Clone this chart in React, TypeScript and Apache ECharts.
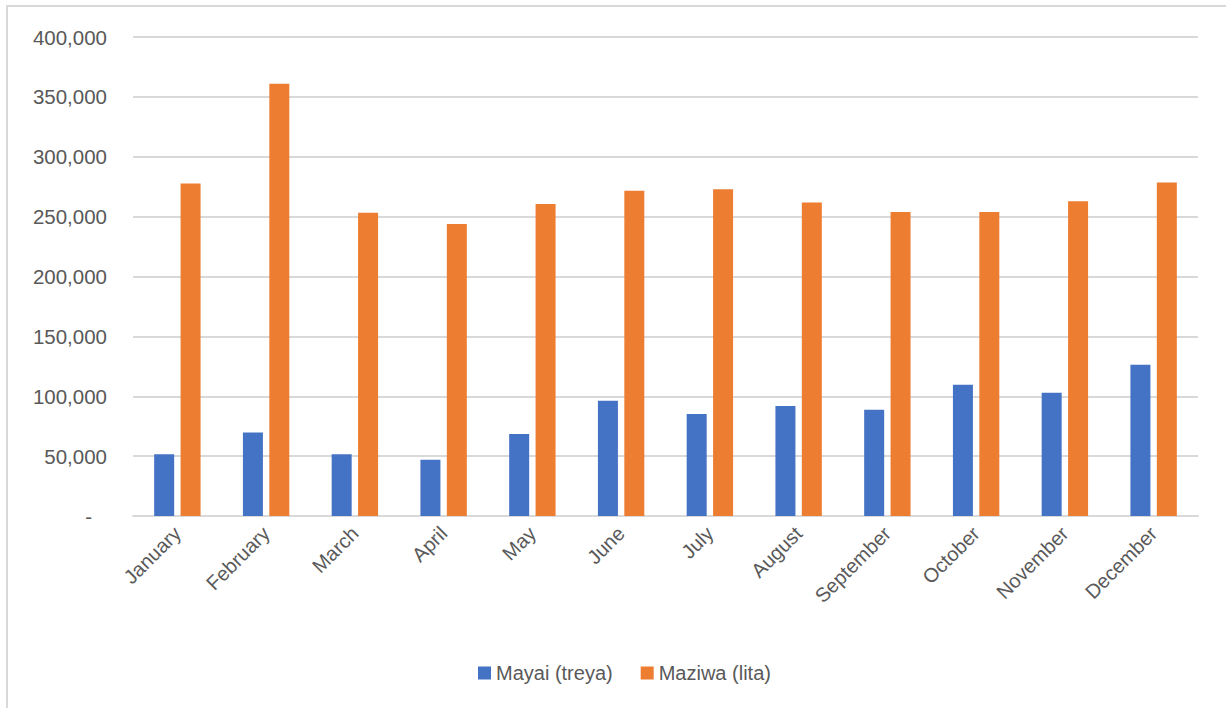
import React, { useEffect, useRef } from "react";
import * as echarts from "echarts";

const months = ["January", "February", "March", "April", "May", "June", "July", "August", "September", "October", "November", "December"];
const mayai = [51600, 69700, 51600, 47000, 68400, 96200, 85100, 91800, 88700, 109600, 102900, 126300];
const maziwa = [277600, 360900, 253200, 243900, 260600, 271700, 272800, 261700, 253900, 253900, 262800, 278400];
const seriesNames = ["Mayai (treya)", "Maziwa (lita)"];
const yTicks = { min: 0, max: 400000, interval: 50000 };

const FONT = "'Liberation Sans', Arial, sans-serif";

export default function App() {
  const ref = useRef<HTMLDivElement>(null);
  useEffect(() => {
    document.body.style.margin = "0";
    if (!ref.current) return;
    const chart = echarts.init(ref.current, undefined, { renderer: "svg" });
    chart.setOption({
      animation: false,
      backgroundColor: "#ffffff",
      textStyle: { fontFamily: FONT },
      graphic: [
        {
          type: "rect",
          shape: { x: 7, y: 6, width: 1300, height: 800 },
          style: { fill: "none", stroke: "#d9d9d9", lineWidth: 2 },
          silent: true,
        },
      ],
      grid: { left: 133, right: 28, top: 37, bottom: 192, containLabel: false },
      legend: {
        bottom: 20,
        left: 473,
        itemWidth: 13,
        itemHeight: 13,
        itemGap: 28,
        icon: "rect",
        textStyle: { color: "#595959", fontSize: 20, fontFamily: FONT },
        data: seriesNames,
      },
      xAxis: {
        type: "category",
        data: months,
        axisLine: { show: true, lineStyle: { color: "#d9d9d9", width: 2 } },
        axisTick: { show: false },
        axisLabel: { rotate: 45, color: "#595959", fontSize: 20, fontFamily: FONT, margin: 14, interval: 0 },
      },
      yAxis: {
        type: "value",
        min: yTicks.min,
        max: yTicks.max,
        interval: yTicks.interval,
        axisLine: { show: false },
        axisTick: { show: false },
        splitLine: { lineStyle: { color: "#d9d9d9", width: 2 } },
        axisLabel: {
          color: "#595959",
          fontSize: 20.5,
          fontFamily: FONT,
          margin: 26,
          formatter: (v: number) => (v === 0 ? "{d|-}" : v.toLocaleString("en-US")),
          rich: { d: { padding: [0, 15, 0, 0], fontSize: 20.5, color: "#595959", fontFamily: FONT } },
        },
      },
      series: [
        {
          name: seriesNames[0],
          type: "bar",
          data: mayai,
          barWidth: 20,
          barGap: "32%",
          itemStyle: { color: "#4472C4" },
        },
        {
          name: seriesNames[1],
          type: "bar",
          data: maziwa,
          barWidth: 20,
          barGap: "32%",
          itemStyle: { color: "#ED7D31" },
        },
      ],
    });
    return () => chart.dispose();
  }, []);
  return <div ref={ref} style={{ width: 1226, height: 708 }} />;
}
